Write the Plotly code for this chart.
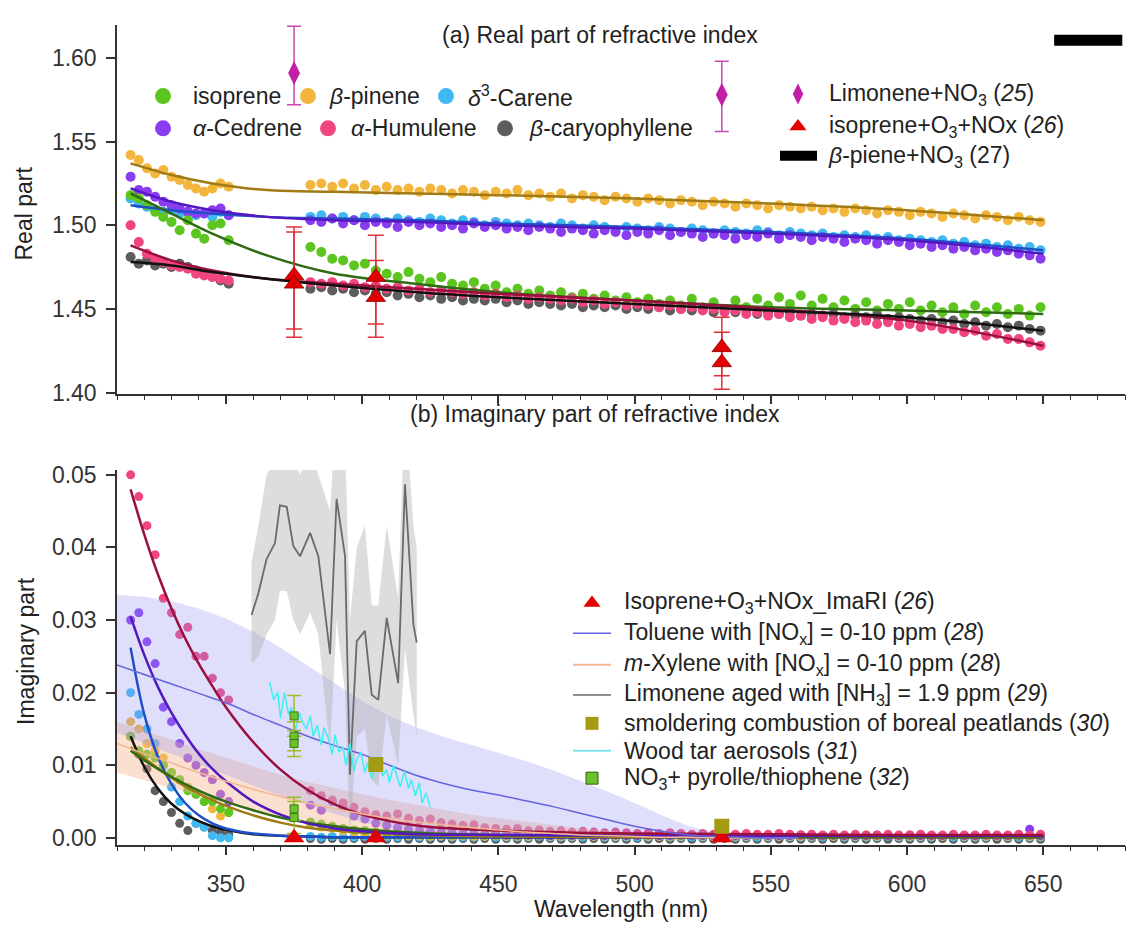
import plotly.graph_objects as go

W, H = 1131, 934
FONT = "Liberation Sans, Arial, sans-serif"

# ---------------------------------------------------------------- wavelength grids (nm)
WL_SHORT = [315, 318, 321, 324, 327, 330, 333, 336, 339, 342, 345, 348, 351]
WL_LONG = [381, 385, 389, 393, 397, 401, 405, 409, 413, 417,
           421, 425, 429, 433, 437, 441, 445, 449, 453, 457,
           461, 465, 469, 473, 477, 481, 485, 489, 493, 497,
           501, 505, 509, 513, 517, 521, 525, 529, 533, 537,
           541, 545, 549, 553, 557, 561, 565, 569, 573, 577,
           581, 585, 589, 593, 597, 601, 605, 609, 613, 617,
           621, 625, 629, 633, 637, 641, 645, 649]
WL_PTS = WL_SHORT + WL_LONG

# ---------------------------------------------------------------- (a) real part, measured points
N_ISOPRENE = [1.518, 1.516, 1.512, 1.508, 1.505, 1.502, 1.497, 1.503, 1.495, 1.492, 1.500, 1.501, 1.491,
              1.487, 1.484, 1.480, 1.479, 1.476, 1.477, 1.473, 1.471, 1.469, 1.472,
              1.468, 1.466, 1.469, 1.465, 1.464, 1.466, 1.462, 1.464, 1.460, 1.462,
              1.459, 1.461, 1.458, 1.460, 1.457, 1.459, 1.456, 1.458, 1.455, 1.457,
              1.454, 1.456, 1.453, 1.455, 1.452, 1.456, 1.451, 1.454, 1.450, 1.455,
              1.451, 1.456, 1.452, 1.457, 1.453, 1.458, 1.452, 1.456, 1.451, 1.455,
              1.450, 1.454, 1.449, 1.453, 1.450, 1.454, 1.449, 1.452, 1.448, 1.451,
              1.447, 1.452, 1.448, 1.451, 1.447, 1.450, 1.446, 1.451]
N_BPINENE = [1.542, 1.539, 1.534, 1.531, 1.533, 1.529, 1.527, 1.524, 1.522, 1.520, 1.522, 1.525, 1.523,
             1.524, 1.525, 1.523, 1.525, 1.522, 1.524, 1.521, 1.523, 1.521, 1.522,
             1.520, 1.522, 1.521, 1.519, 1.521, 1.520, 1.518, 1.520, 1.519, 1.521,
             1.518, 1.519, 1.517, 1.519, 1.516, 1.518, 1.517, 1.515, 1.517, 1.516,
             1.514, 1.516, 1.515, 1.513, 1.515, 1.514, 1.512, 1.514, 1.513, 1.511,
             1.513, 1.512, 1.510, 1.512, 1.511, 1.510, 1.511, 1.509, 1.510, 1.508,
             1.510, 1.509, 1.507, 1.509, 1.508, 1.506, 1.508, 1.507, 1.505, 1.507,
             1.506, 1.504, 1.506, 1.505, 1.503, 1.505, 1.503, 1.502]
N_CARENE = [1.516, 1.513, 1.511, 1.509, 1.508, 1.509, 1.507, 1.508, 1.506, 1.507, 1.505, 1.508, 1.506,
            1.505, 1.506, 1.504, 1.505, 1.503, 1.505, 1.504, 1.502, 1.504, 1.503,
            1.502, 1.504, 1.503, 1.501, 1.503, 1.502, 1.500, 1.502, 1.501, 1.500,
            1.501, 1.500, 1.499, 1.501, 1.500, 1.498, 1.500, 1.499, 1.497, 1.499,
            1.498, 1.497, 1.499, 1.498, 1.496, 1.498, 1.497, 1.495, 1.497, 1.496,
            1.495, 1.497, 1.496, 1.494, 1.496, 1.495, 1.494, 1.495, 1.493, 1.494,
            1.493, 1.494, 1.492, 1.493, 1.491, 1.492, 1.491, 1.490, 1.491, 1.489,
            1.490, 1.488, 1.489, 1.487, 1.488, 1.486, 1.487, 1.485]
N_CEDRENE = [1.529, 1.521, 1.520, 1.517, 1.514, 1.512, 1.510, 1.508, 1.507, 1.507, 1.509, 1.510, 1.506,
             1.503, 1.502, 1.504, 1.501, 1.503, 1.500, 1.502, 1.501, 1.499, 1.502,
             1.500, 1.501, 1.499, 1.500, 1.498, 1.501, 1.499, 1.500, 1.498, 1.499,
             1.497, 1.499, 1.498, 1.496, 1.498, 1.497, 1.495, 1.497, 1.496, 1.494,
             1.496, 1.495, 1.497, 1.494, 1.496, 1.495, 1.493, 1.495, 1.494, 1.492,
             1.494, 1.493, 1.495, 1.492, 1.494, 1.493, 1.491, 1.493, 1.492, 1.490,
             1.492, 1.491, 1.489, 1.491, 1.490, 1.488, 1.489, 1.487, 1.488, 1.486,
             1.487, 1.485, 1.486, 1.484, 1.485, 1.483, 1.482, 1.480]
N_HUMULENE = [1.500, 1.490, 1.483, 1.480, 1.478, 1.476, 1.475, 1.474, 1.471, 1.470, 1.469, 1.468, 1.467,
              1.466, 1.465, 1.466, 1.464, 1.465, 1.463, 1.464, 1.462, 1.463, 1.461,
              1.462, 1.460, 1.461, 1.460, 1.459, 1.460, 1.458, 1.459, 1.457, 1.458,
              1.456, 1.457, 1.456, 1.455, 1.456, 1.454, 1.455, 1.453, 1.454, 1.452,
              1.453, 1.452, 1.451, 1.452, 1.450, 1.451, 1.449, 1.450, 1.448, 1.449,
              1.447, 1.448, 1.446, 1.447, 1.445, 1.446, 1.444, 1.445, 1.443, 1.444,
              1.442, 1.443, 1.441, 1.442, 1.440, 1.441, 1.439, 1.440, 1.438, 1.438,
              1.436, 1.437, 1.434, 1.435, 1.432, 1.432, 1.430, 1.428]
N_CARYO = [1.481, 1.477, 1.479, 1.476, 1.477, 1.475, 1.477, 1.475, 1.473, 1.471, 1.470, 1.467, 1.465,
           1.462, 1.463, 1.461, 1.462, 1.460, 1.461, 1.459, 1.460, 1.458, 1.459,
           1.457, 1.458, 1.456, 1.457, 1.455, 1.456, 1.455, 1.456, 1.454, 1.455,
           1.453, 1.454, 1.453, 1.452, 1.453, 1.451, 1.452, 1.451, 1.452, 1.450,
           1.451, 1.450, 1.451, 1.449, 1.450, 1.449, 1.450, 1.448, 1.449, 1.448,
           1.449, 1.447, 1.448, 1.447, 1.448, 1.446, 1.447, 1.446, 1.447, 1.445,
           1.446, 1.445, 1.446, 1.444, 1.445, 1.444, 1.443, 1.444, 1.442, 1.443,
           1.441, 1.442, 1.440, 1.441, 1.439, 1.440, 1.438, 1.437]

# (a) fitted curves
FIT_WL_A = [315, 330, 345, 365, 390, 420, 450, 500, 550, 600, 650]
FIT_N_ISOPRENE = [1.519, 1.507, 1.495, 1.482, 1.471, 1.465, 1.460, 1.455, 1.451, 1.449, 1.447]
FIT_N_BPINENE = [1.537, 1.530, 1.525, 1.521, 1.520, 1.519, 1.518, 1.516, 1.513, 1.509, 1.503]
FIT_N_CARENE = [1.512, 1.509, 1.507, 1.505, 1.504, 1.503, 1.501, 1.499, 1.496, 1.492, 1.485]
FIT_N_CEDRENE = [1.522, 1.514, 1.509, 1.505, 1.503, 1.502, 1.500, 1.498, 1.495, 1.491, 1.483]
FIT_N_HUMULENE = [1.488, 1.479, 1.473, 1.468, 1.465, 1.462, 1.459, 1.455, 1.450, 1.443, 1.428]
FIT_N_CARYO = [1.478, 1.476, 1.472, 1.468, 1.464, 1.460, 1.457, 1.453, 1.449, 1.445, 1.437]

# (a) literature values
LIM_WL = [375, 532]
LIM_N = [1.591, 1.578]
LIM_ERR_UP = [0.028, 0.020]
LIM_ERR_DN = [0.019, 0.022]

ISO_NOX_WL = [375, 375, 405, 405, 532, 532]
ISO_NOX_N = [1.470, 1.465, 1.469, 1.457, 1.427, 1.418]
ISO_NOX_ERR_UP = [0.029, 0.031, 0.025, 0.022, 0.018, 0.018]
ISO_NOX_ERR_DN = [0.032, 0.032, 0.028, 0.024, 0.017, 0.016]

BPIN_NO3_WL = [654, 679]
BPIN_NO3_N = [1.6105, 1.6105]

# ---------------------------------------------------------------- (b) imaginary part, measured points
K_HUMULENE = [0.050, 0.047, 0.043, 0.039, 0.033, 0.031, 0.028, 0.029, 0.025, 0.025, 0.022, 0.020, 0.019,
              0.0065, 0.0058, 0.0052, 0.0048, 0.0042, 0.0036, 0.0032, 0.0030, 0.0033, 0.0027,
              0.0024, 0.0026, 0.0021, 0.0019, 0.0017, 0.0018, 0.0014, 0.0013, 0.0012, 0.0013,
              0.0010, 0.0011, 0.0009, 0.0010, 0.0008, 0.0009, 0.0008, 0.0007, 0.0008, 0.0007,
              0.0006, 0.0007, 0.0006, 0.0007, 0.0006, 0.0005, 0.0006, 0.0005, 0.0006, 0.0005,
              0.0006, 0.0005, 0.0005, 0.0006, 0.0005, 0.0004, 0.0005, 0.0004, 0.0005, 0.0004,
              0.0005, 0.0004, 0.0004, 0.0005, 0.0004, 0.0004, 0.0005, 0.0004, 0.0004, 0.0005,
              0.0004, 0.0004, 0.0005, 0.0004, 0.0004, 0.0005, 0.0004, 0.0005]
K_CEDRENE = [0.030, 0.031, 0.027, 0.024, 0.018, 0.016, 0.013, 0.011, 0.010, 0.009, 0.008, 0.006, 0.005,
             0.0045, 0.0038, 0.0050, 0.0043, 0.0030, 0.0026, 0.0020, 0.0017, 0.0014, 0.0012,
             0.0010, 0.0009, 0.0008, 0.0007, 0.0006, 0.0006, 0.0005, 0.0005, 0.0004, 0.0004,
             0.0004, 0.0004, 0.0003, 0.0004, 0.0003, 0.0004, 0.0003, 0.0003, 0.0004, 0.0003,
             0.0003, 0.0004, 0.0003, 0.0003, 0.0004, 0.0003, 0.0003, 0.0003, 0.0004, 0.0003,
             0.0003, 0.0004, 0.0003, 0.0003, 0.0003, 0.0004, 0.0003, 0.0003, 0.0004, 0.0003,
             0.0003, 0.0003, 0.0004, 0.0003, 0.0003, 0.0004, 0.0003, 0.0003, 0.0003, 0.0004,
             0.0003, 0.0003, 0.0004, 0.0003, 0.0003, 0.0004, 0.0012, 0.0003]
K_CARENE = [0.020, 0.017, 0.015, 0.013, 0.010, 0.007, 0.005, 0.003, 0.002, 0.0015, 0.0003, 0.0, 0.0,
            0.0002, 0.0001, 0.0002, 0.0001, 0.0001, 0.0002, 0.0001, 0.0001, 0.0001, 0.0002,
            0.0001, 0.0001, 0.0002, 0.0001, 0.0001, 0.0001, 0.0002, 0.0001, 0.0001, 0.0001,
            0.0001, 0.0002, 0.0001, 0.0001, 0.0001, 0.0001, 0.0002, 0.0001, 0.0001, 0.0001,
            0.0001, 0.0001, 0.0002, 0.0001, 0.0001, 0.0001, 0.0001, 0.0002, 0.0001, 0.0001,
            0.0001, 0.0001, 0.0001, 0.0002, 0.0001, 0.0001, 0.0001, 0.0001, 0.0002, 0.0001,
            0.0001, 0.0001, 0.0001, 0.0002, 0.0001, 0.0001, 0.0001, 0.0001, 0.0002, 0.0001,
            0.0001, 0.0001, 0.0001, 0.0002, 0.0001, 0.0001, 0.0001, 0.0001]
K_BPINENE = [0.016, 0.015, 0.013, 0.012, 0.011, 0.009, 0.008, 0.007, 0.006, 0.005, 0.004, 0.003, 0.0035,
             0.0018, 0.0015, 0.0013, 0.0010, 0.0008, 0.0007, 0.0005, 0.0004, 0.0004, 0.0003,
             0.0003, 0.0002, 0.0003, 0.0002, 0.0003, 0.0002, 0.0002, 0.0003, 0.0002, 0.0002,
             0.0002, 0.0003, 0.0002, 0.0002, 0.0002, 0.0003, 0.0002, 0.0002, 0.0002, 0.0002,
             0.0003, 0.0002, 0.0002, 0.0002, 0.0002, 0.0003, 0.0002, 0.0002, 0.0002, 0.0002,
             0.0002, 0.0003, 0.0002, 0.0002, 0.0002, 0.0002, 0.0002, 0.0003, 0.0002, 0.0002,
             0.0002, 0.0002, 0.0002, 0.0003, 0.0002, 0.0002, 0.0002, 0.0002, 0.0002, 0.0003,
             0.0002, 0.0002, 0.0002, 0.0002, 0.0002, 0.0003, 0.0002, 0.0002]
K_ISOPRENE = [0.014, 0.012, 0.0115, 0.011, 0.010, 0.009, 0.008, 0.0065, 0.006, 0.005, 0.005, 0.004, 0.0035,
              0.0022, 0.0019, 0.0016, 0.0013, 0.0011, 0.0010, 0.0008, 0.0007, 0.0006, 0.0005,
              0.0005, 0.0004, 0.0005, 0.0004, 0.0004, 0.0005, 0.0004, 0.0004, 0.0004, 0.0003,
              0.0004, 0.0004, 0.0003, 0.0004, 0.0003, 0.0004, 0.0003, 0.0003, 0.0004, 0.0003,
              0.0003, 0.0004, 0.0003, 0.0003, 0.0003, 0.0004, 0.0003, 0.0003, 0.0003, 0.0003,
              0.0004, 0.0003, 0.0003, 0.0003, 0.0003, 0.0004, 0.0003, 0.0003, 0.0003, 0.0003,
              0.0003, 0.0004, 0.0003, 0.0003, 0.0003, 0.0003, 0.0004, 0.0003, 0.0003, 0.0003,
              0.0003, 0.0003, 0.0004, 0.0003, 0.0003, 0.0003, 0.0003, 0.0003]
K_CARYO = [0.014, 0.0115, 0.0095, 0.0065, 0.005, 0.0035, 0.002, 0.001, 0.002, 0.0015, 0.001, 0.0008, 0.0005,
           -0.0001, -0.0002, -0.0001, -0.0002, -0.0001, -0.0002, -0.0001, -0.0002, -0.0001, -0.0002,
           -0.0001, -0.0002, -0.0001, -0.0002, -0.0001, -0.0002, -0.0001, -0.0002, -0.0001, -0.0002,
           -0.0001, -0.0002, -0.0001, -0.0002, -0.0001, -0.0002, -0.0001, -0.0002, -0.0001, -0.0002,
           -0.0001, -0.0002, -0.0001, -0.0002, -0.0001, -0.0002, -0.0001, -0.0002, -0.0001, -0.0002,
           -0.0001, -0.0002, -0.0001, -0.0002, -0.0001, -0.0002, -0.0001, -0.0002, -0.0001, -0.0002,
           -0.0001, -0.0002, -0.0001, -0.0002, -0.0001, -0.0002, -0.0001, -0.0002, -0.0001, -0.0002,
           -0.0001, -0.0002, -0.0001, -0.0002, -0.0001, -0.0002, -0.0001, -0.0002]

# (b) fitted curves
FIT_WL_B = [315, 320, 325, 330, 335, 340, 345, 350, 360, 370, 380, 390, 400, 420, 450, 500, 550, 600, 650]
FIT_K_HUMULENE = [0.0480, 0.0418, 0.0363, 0.0316, 0.0275, 0.0240, 0.0209, 0.0180, 0.0132, 0.0094,
                  0.0066, 0.0046, 0.0032, 0.0017, 0.0010, 0.0006, 0.0005, 0.0004, 0.0004]
FIT_K_CEDRENE = [0.0305, 0.0252, 0.0208, 0.0172, 0.0142, 0.0116, 0.0095, 0.0078, 0.0050, 0.0032,
                 0.0020, 0.0013, 0.0009, 0.0005, 0.0004, 0.0003, 0.0003, 0.0003, 0.0003]
FIT_K_CARENE = [0.0262, 0.0170, 0.0112, 0.0074, 0.0048, 0.0031, 0.0020, 0.0013, 0.0006, 0.0003,
                0.0002, 0.0001, 0.0001, 0.0001, 0.0001, 0.0001, 0.0001, 0.0001, 0.0001]
FIT_K_BPINENE = [0.0125, 0.0110, 0.0096, 0.0083, 0.0071, 0.0061, 0.0052, 0.0044, 0.0031, 0.0021,
                 0.0014, 0.0010, 0.0007, 0.0004, 0.0002, 0.0001, 0.0001, 0.0001, 0.0001]
FIT_K_ISOPRENE = [0.0120, 0.0107, 0.0095, 0.0084, 0.0074, 0.0065, 0.0057, 0.0050, 0.0038, 0.0028,
                  0.0021, 0.0016, 0.0012, 0.0007, 0.0004, 0.0003, 0.0002, 0.0002, 0.0002]
FIT_K_CARYO = [0.0140, 0.0098, 0.0068, 0.0047, 0.0033, 0.0023, 0.0016, 0.0011, 0.0005, 0.0003,
               0.0002, 0.0001, 0.0001, 0.0001, 0.0001, 0.0001, 0.0001, 0.0001, 0.0001]

# (b) literature spectra with uncertainty bands
LIT_WL = [310, 320, 330, 340, 350, 360, 370, 380, 390, 400, 410, 420, 430,
          440, 450, 460, 470, 480, 490, 500, 510, 520, 530, 540, 550, 560]
TOL_K = [0.0238, 0.0225, 0.0212, 0.0199, 0.0186, 0.0170, 0.0155, 0.0140, 0.0127, 0.0115, 0.0100, 0.0086, 0.0075,
         0.0066, 0.0059, 0.0051, 0.0043, 0.0034, 0.0025, 0.0016, 0.0009, 0.0004, 0.0002, 0.0001, 0.0, 0.0]
TOL_HI = [0.0335, 0.0332, 0.0326, 0.0316, 0.0302, 0.0284, 0.0262, 0.0237, 0.0212, 0.0188, 0.0168, 0.0152, 0.0139,
          0.0128, 0.0118, 0.0106, 0.0093, 0.0079, 0.0064, 0.0048, 0.0031, 0.0016, 0.0007, 0.0004, 0.0002, 0.0001]
TOL_LO = [0.0145, 0.0130, 0.0116, 0.0101, 0.0087, 0.0072, 0.0058, 0.0045, 0.0033, 0.0022, 0.0013, 0.0007, 0.0003,
          0.0001, 0.0, 0.0, 0.0, 0.0, 0.0, 0.0, 0.0, 0.0, 0.0, 0.0, 0.0, 0.0]
XYL_K = [0.0130, 0.0116, 0.0103, 0.0090, 0.0078, 0.0067, 0.0057, 0.0048, 0.0040, 0.0033, 0.0027, 0.0022, 0.0018,
         0.0014, 0.0011, 0.0008, 0.0006, 0.0004, 0.0003, 0.0002, 0.0001, 0.0001, 0.0, 0.0, 0.0, 0.0]
XYL_HI = [0.0160, 0.0148, 0.0135, 0.0122, 0.0110, 0.0098, 0.0087, 0.0077, 0.0068, 0.0060, 0.0052, 0.0045, 0.0038,
          0.0032, 0.0027, 0.0022, 0.0017, 0.0013, 0.0010, 0.0007, 0.0004, 0.0002, 0.0001, 0.0, 0.0, 0.0]
XYL_LO = [0.0090, 0.0080, 0.0069, 0.0058, 0.0047, 0.0037, 0.0028, 0.0020, 0.0014, 0.0009, 0.0005, 0.0002, 0.0,
          0.0, 0.0, 0.0, 0.0, 0.0, 0.0, 0.0, 0.0, 0.0, 0.0, 0.0, 0.0, 0.0]

LIMNH3_WL = [359.4, 361.9, 364.9, 368.0, 369.8, 372.3, 374.7, 377.2, 380.9, 383.9, 388.2, 390.6,
             393.7, 395.5, 398.0, 401.0, 403.5, 405.9, 409.0, 413.2, 415.7, 418.8, 420.0]
LIMNH3_K = [0.0307, 0.0337, 0.0384, 0.0406, 0.0458, 0.0456, 0.0402, 0.0388, 0.0420, 0.0388, 0.0253, 0.0467,
            0.0388, 0.0087, 0.0271, 0.0285, 0.0197, 0.0190, 0.0303, 0.0213, 0.0487, 0.0294, 0.0269]
LIMNH3_HI = [0.038, 0.043, 0.050, 0.052, 0.058, 0.058, 0.052, 0.050, 0.054, 0.050, 0.045, 0.060,
             0.055, 0.030, 0.040, 0.043, 0.032, 0.032, 0.043, 0.033, 0.060, 0.043, 0.040]
LIMNH3_LO = [0.024, 0.025, 0.028, 0.030, 0.034, 0.034, 0.030, 0.028, 0.031, 0.028, 0.012, 0.030,
             0.020, 0.000, 0.014, 0.015, 0.008, 0.007, 0.017, 0.010, 0.026, 0.017, 0.014]

WOODTAR_WL = [366, 367.5, 369, 370, 371.5, 373, 374, 375.5, 377, 378,
              379.5, 381, 382, 383.5, 385, 386, 387.5, 389, 390, 391.5,
              393, 394, 395.5, 397, 398, 399.5, 401, 402, 403.5, 405,
              406, 407.5, 409, 410, 411.5, 413, 414, 415.5, 417, 418,
              419.5, 421, 422, 423.5, 425]
WOODTAR_K = [0.0215, 0.0190, 0.0200, 0.0165, 0.0200, 0.0170, 0.0180, 0.0148, 0.0172, 0.0160,
             0.0150, 0.0168, 0.0140, 0.0155, 0.0128, 0.0152, 0.0138, 0.0115, 0.0142, 0.0118,
             0.0125, 0.0100, 0.0130, 0.0092, 0.0108, 0.0118, 0.0090, 0.0104, 0.0082, 0.0098,
             0.0112, 0.0085, 0.0094, 0.0076, 0.0100, 0.0082, 0.0070, 0.0092, 0.0068, 0.0080,
             0.0058, 0.0076, 0.0048, 0.0062, 0.0042]

IMA_TRI_WL = [375, 405, 532]
IMA_TRI_K = [0.0, 0.0, 0.0]

PEAT_WL = [405, 532]
PEAT_K = [0.0101, 0.0016]

PYR_WL = [375, 375, 375, 375, 375]
PYR_K = [0.0168, 0.0140, 0.0130, 0.0040, 0.0028]
PYR_ERR = [0.0028, 0.0020, 0.0018, 0.0016, 0.0022]

# ---------------------------------------------------------------- colours
C_ISO, C_ISO_FIT = "#5cc51f", "#2f6b12"
C_BPI, C_BPI_FIT = "#f2b63c", "#a07a14"
C_CAR, C_CAR_FIT = "#3fb9f2", "#1f4fc8"
C_CED, C_CED_FIT = "#8a3cf0", "#5418c0"
C_HUM, C_HUM_FIT = "#f0457f", "#9a0f3c"
C_CAY, C_CAY_FIT = "#5d5d5d", "#111111"
C_LIM = "#c21fa8"
C_RED = "#e30000"
C_TOL = "#6464dc"
C_XYL = "#f2b896"
C_NH3 = "#6a6a6a"
C_PEAT = "#a39c12"
C_WOOD = "#3cf0f0"
C_PYR = "#6cc22a"
TXT = "#222222"
FS = 23


def py(p):
    return 1 - p / H


fig = go.Figure()


def points(x, y, color, xa, ya, size):
    fig.add_trace(go.Scatter(x=x, y=y, mode="markers", xaxis=xa, yaxis=ya,
                             marker=dict(size=size, color=color, line=dict(width=0)),
                             showlegend=False, hoverinfo="skip"))


def curve(x, y, color, xa, ya, width=2.5):
    fig.add_trace(go.Scatter(x=x, y=y, mode="lines", xaxis=xa, yaxis=ya,
                             line=dict(color=color, width=width, shape="spline", smoothing=1.0),
                             showlegend=False, hoverinfo="skip"))


def band(x, hi, lo, fillcolor, xa, ya):
    fig.add_trace(go.Scatter(x=list(x) + list(x)[::-1], y=list(hi) + list(lo)[::-1],
                             mode="lines", fill="toself", fillcolor=fillcolor,
                             line=dict(width=0), xaxis=xa, yaxis=ya,
                             showlegend=False, hoverinfo="skip"))


# ---------------------------------------------------------------- panel (a)
for ys, c in [(N_BPINENE, C_BPI), (N_CARENE, C_CAR), (N_CEDRENE, C_CED),
              (N_ISOPRENE, C_ISO), (N_CARYO, C_CAY), (N_HUMULENE, C_HUM)]:
    points(WL_PTS, ys, c, "x2", "y2", 10)
for ys, c in [(FIT_N_BPINENE, C_BPI_FIT), (FIT_N_CARENE, C_CAR_FIT), (FIT_N_CEDRENE, C_CED_FIT),
              (FIT_N_ISOPRENE, C_ISO_FIT), (FIT_N_HUMULENE, C_HUM_FIT), (FIT_N_CARYO, C_CAY_FIT)]:
    curve(FIT_WL_A, ys, c, "x2", "y2")

fig.add_trace(go.Scatter(
    x=ISO_NOX_WL, y=ISO_NOX_N, mode="markers", xaxis="x2", yaxis="y2",
    marker=dict(symbol="triangle-up", size=17, color=C_RED, line=dict(color="#8a0000", width=0.8)),
    error_y=dict(type="data", array=ISO_NOX_ERR_UP, arrayminus=ISO_NOX_ERR_DN,
                 color="#e0303a", thickness=1.5, width=8),
    showlegend=False, hoverinfo="skip"))
fig.add_trace(go.Scatter(
    x=LIM_WL, y=LIM_N, mode="markers", xaxis="x2", yaxis="y2",
    marker=dict(symbol="diamond-tall", size=17, color=C_LIM),
    error_y=dict(type="data", array=LIM_ERR_UP, arrayminus=LIM_ERR_DN,
                 color="#c847b4", thickness=1.5, width=7),
    showlegend=False, hoverinfo="skip"))
fig.add_trace(go.Scatter(x=BPIN_NO3_WL, y=BPIN_NO3_N, mode="lines", xaxis="x2", yaxis="y2",
                         line=dict(color="#000000", width=11), showlegend=False, hoverinfo="skip"))

# ---------------------------------------------------------------- panel (b)
for ys, c in [(K_CARYO, C_CAY), (K_CARENE, C_CAR), (K_BPINENE, C_BPI), (K_ISOPRENE, C_ISO),
              (K_CEDRENE, C_CED), (K_HUMULENE, C_HUM)]:
    points(WL_PTS, ys, c, "x", "y", 9)

band(LIT_WL, XYL_HI, XYL_LO, "rgba(246,180,140,0.42)", "x", "y")
band(LIT_WL, TOL_HI, TOL_LO, "rgba(150,150,245,0.30)", "x", "y")
band(LIMNH3_WL, LIMNH3_HI, LIMNH3_LO, "rgba(170,170,170,0.40)", "x", "y")

for ys, c in [(FIT_K_CARYO, C_CAY_FIT), (FIT_K_CARENE, C_CAR_FIT), (FIT_K_BPINENE, C_BPI_FIT),
              (FIT_K_ISOPRENE, C_ISO_FIT), (FIT_K_CEDRENE, C_CED_FIT), (FIT_K_HUMULENE, C_HUM_FIT)]:
    curve(FIT_WL_B, ys, c, "x", "y")

curve(LIT_WL, XYL_K, C_XYL, "x", "y", width=1.5)
curve(LIT_WL, TOL_K, C_TOL, "x", "y", width=1.5)
fig.add_trace(go.Scatter(x=LIMNH3_WL, y=LIMNH3_K, mode="lines", xaxis="x", yaxis="y",
                         line=dict(color=C_NH3, width=1.8), showlegend=False, hoverinfo="skip"))
fig.add_trace(go.Scatter(x=WOODTAR_WL, y=WOODTAR_K, mode="lines", xaxis="x", yaxis="y",
                         line=dict(color=C_WOOD, width=1.5), showlegend=False, hoverinfo="skip"))
fig.add_trace(go.Scatter(
    x=PYR_WL, y=PYR_K, mode="markers", xaxis="x", yaxis="y",
    marker=dict(symbol="square", size=8, color=C_PYR, line=dict(color="#3d7a16", width=1)),
    error_y=dict(type="data", array=PYR_ERR, color="#9cbc2c", thickness=1.5, width=7),
    showlegend=False, hoverinfo="skip"))
fig.add_trace(go.Scatter(x=IMA_TRI_WL, y=IMA_TRI_K, mode="markers", xaxis="x", yaxis="y",
                         marker=dict(symbol="triangle-up", size=18, color=C_RED),
                         showlegend=False, hoverinfo="skip"))
fig.add_trace(go.Scatter(x=PEAT_WL, y=PEAT_K, mode="markers", xaxis="x", yaxis="y",
                         marker=dict(symbol="square", size=15, color=C_PEAT),
                         showlegend=False, hoverinfo="skip"))

# ---------------------------------------------------------------- legend keys (pixel frame)
def key_marker(x, y, symbol, size, color, line_color=None):
    fig.add_trace(go.Scatter(x=[x], y=[y], mode="markers", xaxis="x3", yaxis="y3",
                             marker=dict(symbol=symbol, size=size, color=color,
                                         line=dict(color=line_color or color, width=1 if line_color else 0)),
                             showlegend=False, hoverinfo="skip"))


def key_line(x0, x1, y, color, width):
    fig.add_trace(go.Scatter(x=[x0, x1], y=[y, y], mode="lines", xaxis="x3", yaxis="y3",
                             line=dict(color=color, width=width), showlegend=False, hoverinfo="skip"))


key_marker(163, 90, "circle", 16, C_ISO)
key_marker(308, 90, "circle", 16, C_BPI)
key_marker(446, 90, "circle", 16, C_CAR)
key_marker(163, 123, "circle", 16, C_CED)
key_marker(328, 123, "circle", 16, C_HUM)
key_marker(505, 123, "circle", 16, C_CAY)
key_marker(798, 88, "diamond-tall", 15, C_LIM)
key_marker(798, 121, "triangle-up", 15, C_RED)
key_line(780, 817, 151, "#000000", 10)

key_marker(592, 608, "triangle-up", 15, C_RED)
key_line(573, 611, 639, C_TOL, 1.5)
key_line(573, 611, 671, C_XYL, 2)
key_line(573, 611, 702, C_NH3, 1.5)
key_marker(592, 731, "square", 13, C_PEAT)
key_line(573, 611, 759, "#7fe3ef", 2)
key_marker(592, 787, "square", 12, C_PYR, "#2f6010")

annotations = []


def label(x, y, text, size=FS, xanchor="left", angle=0):
    annotations.append(dict(x=x / W, y=py(y), xref="paper", yref="paper", text=text,
                            showarrow=False, xanchor=xanchor, yanchor="middle", textangle=angle,
                            font=dict(family=FONT, size=size, color=TXT)))


label(191, 90, "isoprene")
label(327, 90, "<i>β</i>-pinene")
label(466, 90, "<i>δ</i><sup>3</sup>-Carene")
label(191, 123, "<i>α</i>-Cedrene")
label(349, 123, "<i>α</i>-Humulene")
label(527, 123, "<i>β</i>-caryophyllene")
label(827, 88, "Limonene+NO<sub>3</sub> (<i>25</i>)")
label(827, 121, "isoprene+O<sub>3</sub>+NOx (<i>26</i>)")
label(826, 152, "<i>β</i>-piene+NO<sub>3</sub> (27)")

label(622, 608, "Isoprene+O<sub>3</sub>+NOx_ImaRI (<i>26</i>)")
label(622, 639, "Toluene with [NO<sub>x</sub>] = 0-10 ppm (<i>28</i>)")
label(622, 671, "<i>m</i>-Xylene with [NO<sub>x</sub>] = 0-10 ppm (<i>28</i>)")
label(622, 702, "Limonene aged with [NH<sub>3</sub>] = 1.9 ppm (<i>29</i>)")
label(622, 731, "smoldering combustion of boreal peatlands (<i>30</i>)")
label(622, 759, "Wood tar aerosols (<i>31</i>)")
label(622, 787, "NO<sub>3</sub>+ pyrolle/thiophene (<i>32</i>)")

label(600, 28, "(a) Real part of refractive index", xanchor="center")
label(595, 415, "(b) Imaginary part of refractive index", xanchor="center")
label(24, 210, "Real part", xanchor="center", angle=-90)
label(26, 657, "Imaginary part", xanchor="center", angle=-90)
label(621, 921, "Wavelength (nm)", xanchor="center")

# ---------------------------------------------------------------- axes
X_DOM = [117 / W, 1125 / W]
tickfont = dict(family=FONT, size=FS, color="#333333")
common_x = dict(domain=X_DOM, range=[310, 680], showline=True, linecolor="#333333", linewidth=1.5,
                ticks="outside", ticklen=9, tickwidth=1.5, tickcolor="#333333", dtick=50, tick0=300,
                minor=dict(dtick=10, ticks="outside", ticklen=5, tickwidth=1.3, tickcolor="#333333",
                           showgrid=False),
                showgrid=False, zeroline=False, tickfont=tickfont)
common_y = dict(showline=True, linecolor="#333333", linewidth=1.5, ticks="outside", ticklen=9,
                tickwidth=1.5, tickcolor="#333333", showgrid=False, zeroline=False, tickfont=tickfont,
                ticklabelstandoff=5)

fig.update_layout(
    width=W, height=H, margin=dict(l=0, r=0, t=0, b=0),
    paper_bgcolor="white", plot_bgcolor="rgba(0,0,0,0)",
    showlegend=False, font=dict(family=FONT, color=TXT),
    xaxis=dict(common_x, anchor="y", ticklabelstandoff=9),
    yaxis=dict(common_y, anchor="x", domain=[py(855), py(472)], range=[-0.00094, 0.05068],
               tickvals=[0, 0.01, 0.02, 0.03, 0.04, 0.05],
               ticktext=["0.00", "0.01", "0.02", "0.03", "0.04", "0.05"]),
    xaxis2=dict(common_x, anchor="y2", showticklabels=False),
    yaxis2=dict(common_y, anchor="x2", domain=[py(394), py(17)], range=[1.3994, 1.6199],
                tickvals=[1.40, 1.45, 1.50, 1.55, 1.60],
                ticktext=["1.40", "1.45", "1.50", "1.55", "1.60"]),
    xaxis3=dict(domain=[0, 1], range=[0, W], visible=False, anchor="y3", fixedrange=True),
    yaxis3=dict(domain=[0, 1], range=[H, 0], visible=False, anchor="x3", fixedrange=True),
    annotations=annotations,
)

fig.write_html("out.html")
